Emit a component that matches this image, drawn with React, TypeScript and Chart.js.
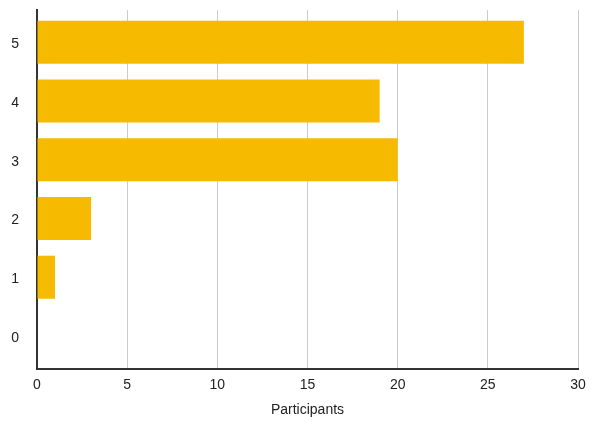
import React, { useEffect, useRef } from "react";
import { Chart, registerables } from "chart.js";

Chart.register(...registerables);

const categories = ["5", "4", "3", "2", "1", "0"];
const participants = [27, 19, 20, 3, 1, 0];
const xTicks = [0, 5, 10, 15, 20, 25, 30];
const axisTitle = "Participants";

export default function App() {
  const ref = useRef<HTMLCanvasElement>(null);
  useEffect(() => {
    document.body.style.margin = "0";
    const font = { family: "'Liberation Sans', Arial, Helvetica, sans-serif", size: 14 };
    const points = categories.map((c, i) => ({ x: participants[i], y: Number(c) }));
    const chart = new Chart(ref.current!, {
      type: "bar",
      data: {
        datasets: [
          {
            label: axisTitle,
            data: points as any,
            backgroundColor: "#F6BB00",
            borderWidth: 0,
            barPercentage: 0.732,
            categoryPercentage: 1,
          },
        ],
      },
      options: {
        indexAxis: "y",
        animation: false,
        responsive: false,
        maintainAspectRatio: false,
        layout: { padding: { top: 10, right: 16, left: 0, bottom: 0 } },
        plugins: { legend: { display: false }, tooltip: { enabled: false } },
        scales: {
          x: {
            type: "linear",
            min: 0,
            max: 30,
            afterBuildTicks: (s: any) => {
              s.ticks = xTicks.map((v) => ({ value: v }));
            },
            afterFit: (s: any) => {
              s.height = 53;
              s.paddingLeft = 0;
              s.paddingRight = 0;
            },
            grid: { color: "#cccccc", lineWidth: 1, drawTicks: false },
            border: { color: "#333333", width: 2 },
            ticks: { color: "#222", font, padding: 8, maxRotation: 0 },
            title: { display: true, text: axisTitle, color: "#222", font, padding: { top: 4, bottom: 3 } },
          },
          y: {
            type: "linear",
            min: -0.562,
            max: 5.548,
            offset: false,
            afterBuildTicks: (s: any) => {
              s.ticks = categories.map((c) => ({ value: Number(c), label: c }));
            },
            afterFit: (s: any) => {
              s.width = 37;
              s.paddingTop = 0;
              s.paddingBottom = 0;
            },
            grid: { display: false, drawTicks: false },
            border: { color: "#333333", width: 2 },
            ticks: {
              color: "#222",
              font,
              padding: 18,
              labelOffset: 2,
              callback: (v: any) => String(v),
            },
          },
        },
      },
    });
    return () => chart.destroy();
  }, []);
  return (
    <div style={{ position: "absolute", left: 0, top: 0, width: 594, height: 422 }}>
      <canvas ref={ref} width={594} height={422} style={{ width: 594, height: 422 }} />
    </div>
  );
}
